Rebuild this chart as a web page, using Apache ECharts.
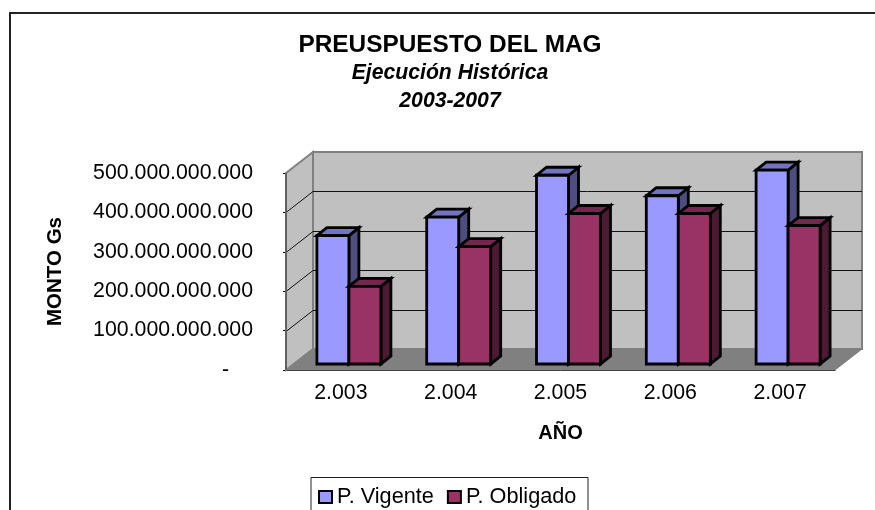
<!DOCTYPE html>
<html>
<head>
<meta charset="utf-8">
<style>
  html, body { margin: 0; padding: 0; background: #fff; }
  #chart { width: 875px; height: 510px; }
</style>
<script src="https://cdn.jsdelivr.net/npm/echarts@6/dist/echarts.min.js"></script>
</head>
<body>
<div id="chart"></div>
<script>
const years = ['2.003', '2.004', '2.005', '2.006', '2.007']
const vigente = [326e9, 373e9, 479e9, 427e9, 492e9]
const obligado = [197e9, 298e9, 382e9, 382e9, 351e9]
const yTicks = [0, 100e9, 200e9, 300e9, 400e9, 500e9]

const FONT = '"Liberation Sans", Arial, sans-serif'

// proyeccion falsa 3D: pared del fondo y profundidad de las barras
const WALL_DX = 27
const WALL_DY = -21
const BAR_FRONT_DX = 8
const BAR_FRONT_DY = -6
const BAR_DX = 10
const BAR_DY = -8
const BAR_W = 32

const poly = (points, fill, stroke, lineWidth) => ({
  type: 'polygon',
  shape: { points },
  style: { fill, stroke, lineWidth, lineJoin: 'miter' }
})

const line = (x1, y1, x2, y2, stroke, lineWidth) => ({
  type: 'line',
  shape: { x1, y1, x2, y2 },
  style: { stroke, lineWidth }
})

const renderWalls = (params, api) => {
  const { x, y, width, height } = params.coordSys
  const l = x
  const r = x + width
  const t = y
  const b = y + height
  const d = WALL_DX
  const e = WALL_DY
  const children = [
    poly([[l + d, t + e], [r + d, t + e], [r + d, b + e], [l + d, b + e]], '#c0c0c0', '#808080', 2),
    poly([[l, t], [l + d, t + e], [l + d, b + e], [l, b]], '#c0c0c0', '#808080', 2),
    poly([[l, b], [l + d, b + e], [r + d, b + e], [r, b]], '#808080', '#808080', 1)
  ]
  yTicks.slice(1, -1).forEach((v) => {
    const py = Math.round(api.coord([0, v])[1]) + 0.5
    children.push(line(l, py, l + d, py + e, '#111', 1))
    children.push(line(l + d, py + e, r + d, py + e, '#111', 1))
  })
  children.push(line(l, b, l, t, '#606060', 2))
  return { type: 'group', children }
}

const bar3d = (serieIdx, front, top, side) => (params, api) => {
  const idx = api.value(0)
  const val = api.value(1)
  const center = api.coord([idx, 0])
  const x0 = center[0] - BAR_W + serieIdx * BAR_W + BAR_FRONT_DX
  const x1 = x0 + BAR_W
  const yb = center[1] + BAR_FRONT_DY
  const yt = api.coord([idx, val])[1] + BAR_FRONT_DY
  return {
    type: 'group',
    children: [
      poly([[x1, yt], [x1 + BAR_DX, yt + BAR_DY], [x1 + BAR_DX, yb + BAR_DY], [x1, yb]], side, '#000', 2.8),
      poly([[x0, yt], [x0 + BAR_DX, yt + BAR_DY], [x1 + BAR_DX, yt + BAR_DY], [x1, yt]], top, '#000', 2.8),
      poly([[x0, yt], [x1, yt], [x1, yb], [x0, yb]], front, '#000', 2.8)
    ]
  }
}

const formatMonto = (v) => {
  if (v === 0) return '{zero|-}'
  return String(v).replace(/\B(?=(\d{3})+$)/g, '.')
}

const chart = echarts.init(document.getElementById('chart'), null, { renderer: 'canvas' })

chart.setOption({
  animation: false,
  backgroundColor: '#fff',
  title: [
    { text: 'PREUSPUESTO DEL MAG', left: 450, top: 33, textAlign: 'center', padding: 0,
      textStyle: { fontFamily: FONT, fontSize: 24.4, fontWeight: 'bold', color: '#000' } },
    { text: 'Ejecución Histórica', left: 450, top: 63, textAlign: 'center', padding: 0,
      textStyle: { fontFamily: FONT, fontSize: 21.2, fontWeight: 'bold', fontStyle: 'italic', color: '#000' } },
    { text: '2003-2007', left: 450, top: 91, textAlign: 'center', padding: 0,
      textStyle: { fontFamily: FONT, fontSize: 21.2, fontWeight: 'bold', fontStyle: 'italic', color: '#000' } }
  ],
  legend: {
    left: 318,
    top: 486,
    padding: 0,
    itemWidth: 13,
    itemHeight: 12,
    itemGap: 13,
    icon: 'rect',
    data: ['P. Vigente', 'P. Obligado'],
    textStyle: { fontFamily: FONT, fontSize: 21.7, color: '#000', padding: [0, 0, 0, 0] }
  },
  grid: { left: 286, top: 173, width: 549, height: 197 },
  xAxis: {
    type: 'category',
    data: years,
    name: 'AÑO',
    nameLocation: 'middle',
    nameGap: 53,
    nameTextStyle: { fontFamily: FONT, fontSize: 20, fontWeight: 'bold', color: '#000' },
    axisLine: { lineStyle: { color: '#000', width: 1 } },
    axisTick: { length: 5, lineStyle: { color: '#000' } },
    axisLabel: { fontFamily: FONT, fontSize: 21.3, color: '#000', margin: 13 }
  },
  yAxis: {
    type: 'value',
    min: 0,
    max: 500e9,
    interval: 100e9,
    name: 'MONTO Gs',
    nameLocation: 'middle',
    nameGap: 220,
    nameTextStyle: { fontFamily: FONT, fontSize: 20.5, fontWeight: 'bold', color: '#000' },
    splitLine: { show: false },
    axisLine: { show: true, lineStyle: { color: '#000', width: 1 } },
    axisTick: { show: true, length: 3, lineStyle: { color: '#000' } },
    axisLabel: {
      fontFamily: FONT,
      fontSize: 21.3,
      color: '#000',
      margin: 33,
      formatter: formatMonto,
      rich: { zero: { fontFamily: FONT, fontSize: 21.3, color: '#000', padding: [0, 24, 0, 0] } }
    }
  },
  series: [
    { type: 'custom', name: 'paredes', silent: true, z: 1, data: [[0, 0]], renderItem: renderWalls },
    {
      type: 'custom',
      name: 'P. Vigente',
      z: 3,
      itemStyle: { color: '#9999ff', borderColor: '#000', borderWidth: 2.8 },
      data: vigente.map((v, i) => [i, v]),
      renderItem: bar3d(0, '#9999ff', '#7373bf', '#4d4d80')
    },
    {
      type: 'custom',
      name: 'P. Obligado',
      z: 4,
      itemStyle: { color: '#993366', borderColor: '#000', borderWidth: 2.8 },
      data: obligado.map((v, i) => [i, v]),
      renderItem: bar3d(1, '#993366', '#732650', '#4d1a33')
    }
  ],
  graphic: [
    { type: 'polyline', silent: true, shape: { points: [[10, 510], [10, 13], [875, 13]] }, style: { fill: 'none', stroke: '#222', lineWidth: 2 } },
    { type: 'polyline', silent: true, shape: { points: [[311, 510], [311, 477.5], [588, 477.5], [588, 510]] }, style: { fill: 'none', stroke: '#222', lineWidth: 1 } }
  ]
})
</script>
</body>
</html>
